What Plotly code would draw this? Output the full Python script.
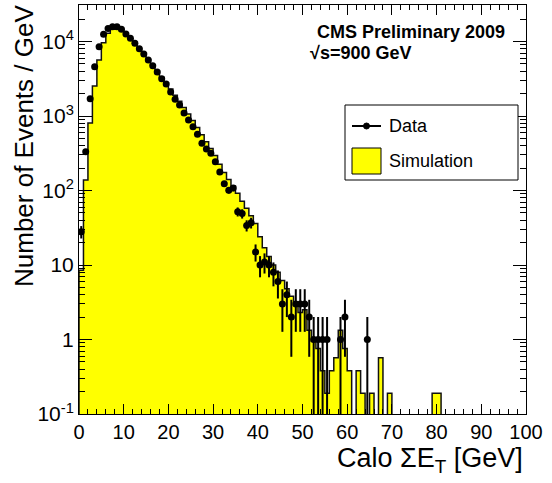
import numpy as np
import plotly.graph_objects as go

# 1 GeV bins from 0 to 100 GeV
bin_edges = list(range(0, 101))

# Observed events per GeV bin
data_counts = [
    28, 330, 1700, 4600, 8500, 12500, 15000, 15800, 15800, 14600,
    12600, 11100, 9460, 8000, 6790, 5650, 4730, 3900, 3170, 2690,
    2100, 1675, 1405, 1097, 884, 718, 567, 430, 361, 317,
    244, 177, 123, 101, 108, 52, 49, 34, 37, 15,
    10, 11, 10, 8, 6, 3, 4, 2, 3, 3,
    3, 2, 1, 1, 1, 1, 0, 0, 1, 2,
    0, 0, 0, 0, 1, 0, 0, 0, 0, 0,
    0, 0, 0, 0, 0, 0, 0, 0, 0, 0,
    0, 0, 0, 0, 0, 0, 0, 0, 0, 0,
    0, 0, 0, 0, 0, 0, 0, 0, 0, 0,
]

# Normalised simulation prediction per GeV bin
sim_counts = [
    8.5, 138, 805, 2530, 5640, 9640, 12900, 14600, 14800, 14000,
    12400, 10900, 9400, 7950, 6800, 5700, 4800, 4000, 3300, 2800,
    2300, 1900, 1580, 1300, 1060, 870, 700, 560, 450, 365,
    295, 225, 175, 140, 115, 92, 72, 58, 46, 36,
    24, 17, 13, 10, 8, 6.2, 4.8, 3.8, 2.9, 2.3,
    2.5, 1.33, 0.95, 0.76, 0.38, 0.19, 0.38, 0.57, 1.33, 0.76,
    0.38, 0, 0.38, 0.19, 0, 0.19, 0, 0.57, 0, 0.19,
    0, 0, 0, 0, 0, 0, 0, 0, 0, 0.19,
    0.19, 0, 0, 0, 0, 0, 0, 0, 0, 0,
    0, 0, 0, 0, 0, 0, 0, 0, 0, 0,
]

y_tickvals = [0.1, 1, 10, 100, 1000, 10000]
y_ticktext = ["10<sup>-1</sup>", "1", "10", "10<sup>2</sup>", "10<sup>3</sup>", "10<sup>4</sup>"]
x_tickvals = list(range(0, 101, 10))

FONT = "Liberation Sans, Arial, Helvetica, sans-serif"
FLOOR = 1e-3  # below the visible range, so empty bins drop out of view

edges = np.array(bin_edges, dtype=float)
sim = np.array(sim_counts, dtype=float)
dat = np.array(data_counts, dtype=float)

# step outline of the simulated histogram, closed along the floor
sim_plot = np.where(sim > 0, sim, FLOOR)
step_x = np.concatenate([[edges[0]], edges, [edges[-1]]])
step_y = np.concatenate([[FLOOR], sim_plot, [sim_plot[-1]], [FLOOR]])

centers = 0.5 * (edges[:-1] + edges[1:])
mask = dat > 0
err = np.sqrt(dat[mask])

fig = go.Figure()

fig.add_trace(go.Scatter(
    x=step_x, y=step_y, mode="lines", line_shape="hv",
    line=dict(color="#111111", width=1.5),
    fill="toself", fillcolor="#ffff00",
    showlegend=False, hoverinfo="skip",
))

fig.add_trace(go.Scatter(
    x=centers[mask], y=dat[mask], mode="markers",
    marker=dict(color="black", size=7, symbol="circle"),
    error_y=dict(type="data", array=err, arrayminus=err, visible=True,
                 color="black", thickness=2, width=0),
    showlegend=False,
))

axis_common = dict(
    showline=True, linecolor="black", linewidth=1, mirror="ticks",
    ticks="inside", tickcolor="black", tickwidth=1,
    showgrid=False, zeroline=False,
)

fig.update_xaxes(
    range=[0, 100], tickmode="array", tickvals=x_tickvals,
    ticklen=10, tickfont=dict(family=FONT, size=20, color="black"),
    minor=dict(ticks="inside", dtick=2, ticklen=5, tickcolor="black", showgrid=False),
    **axis_common,
)
fig.update_yaxes(
    type="log", range=[-1, 4.49], tickmode="array",
    tickvals=y_tickvals, ticktext=y_ticktext,
    ticklen=13, tickfont=dict(family=FONT, size=21, color="black"),
    minor=dict(ticks="inside", dtick="D1", ticklen=6, tickcolor="black", showgrid=False),
    **axis_common,
)

# plot area in pixels: x 79..526, y 5..414
def px(x):
    return (x - 79) / 447.0

def py(y):
    return (414 - y) / 409.0

shapes = [
    # legend frame
    dict(type="rect", xref="paper", yref="paper",
         x0=px(345), x1=px(518), y0=py(180), y1=py(105),
         line=dict(color="black", width=1), fillcolor="white", layer="above"),
    # data entry: line with marker
    dict(type="line", xref="paper", yref="paper",
         x0=px(352), x1=px(381), y0=py(126), y1=py(126),
         line=dict(color="black", width=2), layer="above"),
    dict(type="circle", xref="paper", yref="paper",
         x0=px(363.5), x1=px(369.5), y0=py(129), y1=py(123),
         line=dict(color="black", width=1), fillcolor="black", layer="above"),
    # simulation entry: filled box
    dict(type="rect", xref="paper", yref="paper",
         x0=px(352), x1=px(381), y0=py(174), y1=py(148),
         line=dict(color="black", width=1), fillcolor="#ffff00", layer="above"),
]

annotations = [
    dict(text="Data", x=px(387), y=py(126), xref="paper", yref="paper",
         xanchor="left", yanchor="middle", showarrow=False,
         font=dict(family=FONT, size=18, color="black")),
    dict(text="Simulation", x=px(387), y=py(161), xref="paper", yref="paper",
         xanchor="left", yanchor="middle", showarrow=False,
         font=dict(family=FONT, size=18, color="black")),
    dict(text="<b>CMS Preliminary 2009</b>", x=px(315), y=py(32), xref="paper", yref="paper",
         xanchor="left", yanchor="middle", showarrow=False,
         font=dict(family=FONT, size=18, color="black")),
    dict(text="<b>√s=900 GeV</b>", x=px(308), y=py(53), xref="paper", yref="paper",
         xanchor="left", yanchor="middle", showarrow=False,
         font=dict(family=FONT, size=18, color="black")),
    dict(text="Number of Events / GeV", x=px(24), y=py(146), xref="paper", yref="paper",
         xanchor="center", yanchor="middle", textangle=-90, showarrow=False,
         font=dict(family=FONT, size=26, color="black")),
    dict(text="Calo ΣE<sub>T</sub> [GeV]", x=px(525), y=py(460), xref="paper", yref="paper",
         xanchor="right", yanchor="middle", showarrow=False,
         font=dict(family=FONT, size=27, color="black")),
]

fig.update_layout(
    width=552, height=483,
    margin=dict(l=79, r=26, t=5, b=69),
    paper_bgcolor="white", plot_bgcolor="white",
    shapes=shapes, annotations=annotations,
    showlegend=False,
)

fig.write_html("out.html")
